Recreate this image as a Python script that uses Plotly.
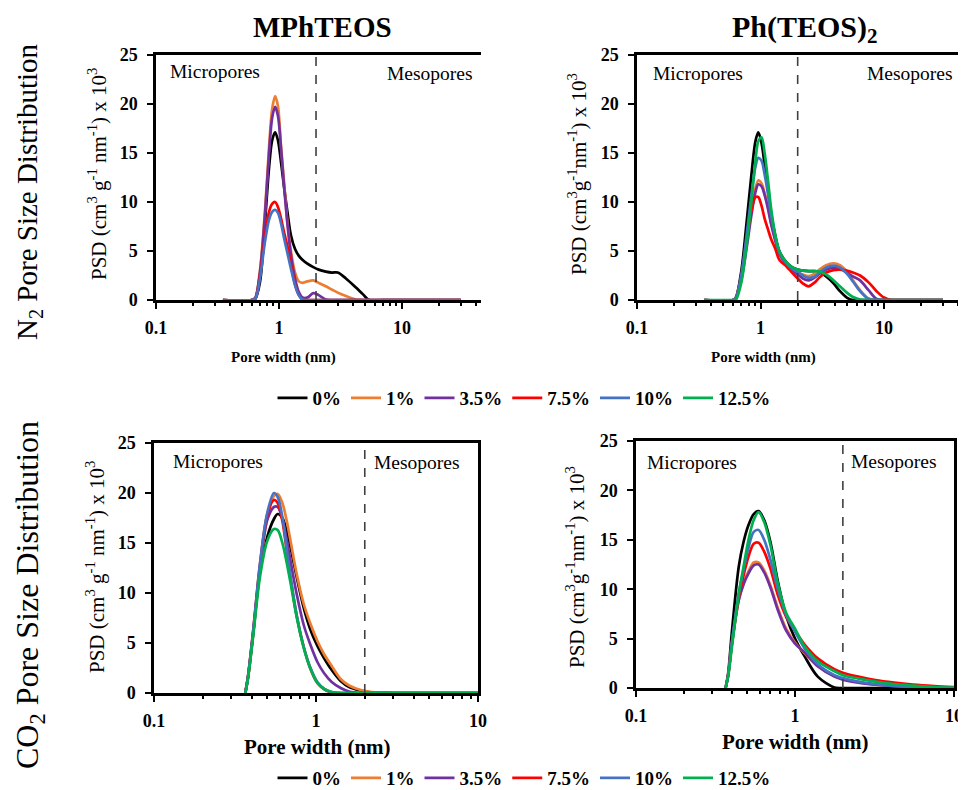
import plotly.graph_objects as go

W, H = 966, 790
OFF = 8  # page body margin of the rendered html
FONT = "'Liberation Serif', 'DejaVu Serif', serif"

LABELS = ["0%", "1%", "3.5%", "7.5%", "10%", "12.5%"]
COLORS = ["#000000", "#ED7D31", "#7030A0", "#FF0000", "#4472C4", "#00B050"]

# ---------------- N2, MPhTEOS (top-left) ----------------
N2_MPH_X = [0.35, 0.6, 0.64, 0.7, 0.77, 0.83, 0.88, 0.93, 0.98, 1.04, 1.1, 1.17, 1.25, 1.35,
            1.45, 1.55, 1.7, 1.9, 2.1, 2.4, 2.7, 3.0, 3.5, 4.2, 4.8, 5.4, 7, 10, 20, 30]
N2_MPH_0 = [0, 0, 0.1, 1.8, 8.0, 13.5, 16.3, 17.1, 16.3, 14.0, 11.5, 9.0, 6.6, 5.2,
            4.5, 4.1, 3.7, 3.35, 3.1, 2.9, 2.8, 2.8, 2.2, 1.3, 0.6, 0, 0, 0, 0, 0]
N2_MPH_1 = [0, 0, 0.2, 3.0, 9.2, 15.6, 19.5, 20.8, 19.8, 15.6, 12.0, 8.0, 5.0, 2.8,
            1.9, 1.75, 1.9, 2.0, 1.75, 1.4, 1.05, 0.75, 0.4, 0.05, 0, 0, 0, 0, 0, 0]
N2_MPH_35 = [0, 0, 0.2, 2.8, 8.8, 15.0, 18.6, 19.7, 18.8, 15.4, 11.6, 7.8, 4.6, 2.2,
             0.8, 0.25, 0.25, 0.7, 0.5, 0.05, 0, 0, 0, 0, 0, 0, 0, 0, 0, 0]
N2_MPH_75 = [0, 0, 0.1, 2.5, 6.5, 9.0, 9.8, 10.0, 9.5, 8.3, 6.9, 5.5, 3.6, 1.6,
             0.5, 0.05, 0, 0, 0, 0, 0, 0, 0, 0, 0, 0, 0, 0, 0, 0]
N2_MPH_10 = [0, 0, 0.1, 2.2, 6.0, 8.2, 9.0, 9.2, 8.9, 7.8, 6.3, 4.8, 3.2, 1.5,
             0.5, 0.05, 0, 0, 0, 0, 0, 0, 0, 0, 0, 0, 0, 0, 0, 0]

# ---------------- N2, Ph(TEOS)2 (top-right) ----------------
N2_PH_X = [0.35, 0.6, 0.63, 0.7, 0.77, 0.84, 0.91, 0.96, 1.02, 1.08, 1.15, 1.22, 1.32, 1.42,
           1.63, 1.8, 2.0, 2.2, 2.45, 2.75, 3.0, 3.4, 3.9, 4.4, 5.0, 5.6, 6.4, 7.5, 8.7, 10,
           11.5, 14, 20, 30]
N2_PH_0 = [0, 0, 0.2, 3.0, 7.8, 12.5, 16.2, 17.1, 16.0, 13.8, 11.2, 8.8, 6.5, 5.0,
           3.8, 3.35, 3.1, 3.0, 2.95, 2.95, 2.85, 2.4, 1.7, 0.9, 0.25, 0, 0, 0, 0, 0,
           0, 0, 0, 0]
N2_PH_1 = [0, 0, 0.2, 2.3, 5.6, 9.0, 11.4, 12.2, 11.9, 10.9, 9.5, 7.9, 6.1, 4.8,
           3.7, 3.2, 2.85, 2.6, 2.45, 2.7, 3.1, 3.55, 3.75, 3.55, 2.9, 2.0, 1.0, 0.15, 0, 0,
           0, 0, 0, 0]
N2_PH_35 = [0, 0, 0.2, 2.1, 5.2, 8.5, 11.0, 11.8, 11.6, 10.7, 9.3, 7.7, 6.0, 4.7,
            3.6, 3.05, 2.6, 2.2, 2.0, 2.3, 2.7, 3.1, 3.3, 3.2, 2.8, 2.4, 2.0, 1.0, 0.1, 0,
            0, 0, 0, 0]
N2_PH_75 = [0, 0, 0.2, 2.5, 6.0, 9.0, 10.5, 10.5, 9.6, 8.3, 7.2, 6.2, 5.2, 4.1,
            3.4, 2.8, 2.2, 1.7, 1.4, 1.8, 2.3, 2.8, 3.05, 3.1, 3.0, 2.8, 2.5, 1.8, 0.9, 0.25,
            0, 0, 0, 0]
N2_PH_10 = [0, 0, 0.2, 2.6, 6.5, 10.5, 13.6, 14.5, 14.2, 12.8, 10.8, 8.6, 6.4, 4.9,
            3.7, 3.2, 2.85, 2.5, 2.25, 2.4, 2.8, 3.3, 3.5, 3.3, 2.7, 1.9, 0.9, 0.1, 0, 0,
            0, 0, 0, 0]
N2_PH_125 = [0, 0, 0, 1.8, 5.5, 9.8, 14.2, 16.2, 16.6, 15.0, 12.2, 9.3, 6.6, 5.0,
             3.8, 3.35, 3.1, 3.0, 2.95, 2.95, 2.9, 2.6, 2.0, 1.4, 0.75, 0.3, 0.05, 0, 0, 0,
             0, 0, 0, 0]

# ---------------- CO2, MPhTEOS (bottom-left) ----------------
CO2_MPH_X = [0.366, 0.38, 0.41, 0.45, 0.5, 0.55, 0.58, 0.62, 0.66, 0.7, 0.76, 0.84, 0.92,
             1.02, 1.12, 1.25, 1.42, 1.6, 1.89, 2.2, 3, 5, 10]
CO2_MPH_0 = [0, 1.5, 6.0, 12.0, 15.6, 17.4, 17.9, 17.5, 16.2, 14.4, 11.6, 8.5, 6.4,
             4.7, 3.5, 2.3, 1.2, 0.6, 0.25, 0.05, 0, 0, 0]
CO2_MPH_1 = [0, 1.5, 6.0, 12.3, 17.5, 19.7, 19.9, 19.0, 17.2, 15.0, 11.9, 8.9, 7.0,
             5.2, 3.9, 2.7, 1.4, 0.75, 0.3, 0.1, 0, 0, 0]
CO2_MPH_35 = [0, 1.5, 6.1, 12.4, 17.3, 18.6, 18.6, 17.4, 15.3, 13.0, 9.9, 6.8, 4.9,
              3.1, 2.0, 1.1, 0.5, 0.15, 0, 0, 0, 0, 0]
CO2_MPH_75 = [0, 1.6, 6.3, 12.7, 17.8, 19.3, 19.0, 17.2, 14.2, 11.2, 7.7, 4.6, 2.5,
              1.0, 0.4, 0.05, 0, 0, 0, 0, 0, 0, 0]
CO2_MPH_10 = [0, 1.6, 6.3, 12.8, 18.0, 20.0, 19.6, 17.6, 14.4, 11.4, 7.8, 4.6, 2.6,
              1.1, 0.45, 0.1, 0, 0, 0, 0, 0, 0, 0]
CO2_MPH_125 = [0, 1.4, 5.8, 11.5, 15.2, 16.4, 16.3, 15.0, 13.0, 10.8, 7.6, 4.5, 2.5,
               1.0, 0.4, 0.1, 0, 0, 0, 0, 0, 0, 0]

# ---------------- CO2, Ph(TEOS)2 (bottom-right) ----------------
CO2_PH_X = [0.366, 0.38, 0.4, 0.443, 0.475, 0.51, 0.55, 0.59, 0.64, 0.7, 0.78, 0.88, 1.0,
            1.15, 1.39, 1.77, 2.0, 2.5, 3.2, 4.2, 5.5, 7.5, 10]
CO2_PH_0 = [0, 1.5, 5.5, 12.3, 14.8, 16.5, 17.6, 17.9, 17.0, 14.8, 10.8, 7.3, 5.0,
            3.2, 1.15, 0.05, 0, 0, 0, 0, 0, 0, 0]
CO2_PH_1 = [0, 1.3, 4.3, 8.9, 10.6, 11.8, 12.7, 12.7, 11.9, 10.4, 8.1, 6.0, 4.6,
            3.5, 2.2, 1.2, 0.9, 0.6, 0.35, 0.2, 0.1, 0.05, 0.02]
CO2_PH_35 = [0, 1.3, 4.3, 8.9, 10.5, 11.6, 12.4, 12.5, 11.7, 10.2, 7.9, 5.8, 4.5,
             3.6, 2.2, 1.15, 0.85, 0.55, 0.35, 0.2, 0.1, 0.05, 0.02]
CO2_PH_75 = [0, 1.3, 4.4, 9.2, 11.4, 13.3, 14.6, 14.7, 13.8, 12.1, 9.4, 7.2, 5.8,
             4.4, 3.0, 1.9, 1.55, 1.15, 0.8, 0.54, 0.35, 0.2, 0.1]
CO2_PH_10 = [0, 1.3, 4.5, 9.6, 12.0, 14.2, 15.8, 16.0, 15.0, 13.0, 10.0, 7.4, 5.7,
             4.0, 2.4, 1.3, 1.0, 0.65, 0.4, 0.2, 0.1, 0.05, 0.02]
CO2_PH_125 = [0, 1.2, 4.0, 9.5, 12.3, 15.0, 17.0, 17.8, 16.8, 14.5, 10.6, 7.6, 6.0,
              4.2, 2.7, 1.7, 1.3, 0.95, 0.65, 0.4, 0.25, 0.1, 0.05]

X_TICKS = [0.1, 1, 10]
X_TICKTEXT = ["0.1", "1", "10"]
MINOR_TICKS = [0.2, 0.3, 0.4, 0.5, 0.6, 0.7, 0.8, 0.9, 2, 3, 4, 5, 6, 7, 8, 9, 20, 30, 40]

panels = [
    ("x", "y", N2_MPH_X, [N2_MPH_0, N2_MPH_1, N2_MPH_35, N2_MPH_75, N2_MPH_10, None], None),
    ("x2", "y2", N2_PH_X, [N2_PH_0, N2_PH_1, N2_PH_35, N2_PH_75, N2_PH_10, N2_PH_125], "legend"),
    ("x3", "y3", CO2_MPH_X, [CO2_MPH_0, CO2_MPH_1, CO2_MPH_35, CO2_MPH_75, CO2_MPH_10, CO2_MPH_125], None),
    ("x4", "y4", CO2_PH_X, [CO2_PH_0, CO2_PH_1, CO2_PH_35, CO2_PH_75, CO2_PH_10, CO2_PH_125], "legend2"),
]

fig = go.Figure()
for xa, ya, xs, series, leg in panels:
    for i, ys in enumerate(series):
        if ys is None:
            continue
        fig.add_trace(go.Scatter(
            x=xs, y=ys, xaxis=xa, yaxis=ya, mode="lines", name=LABELS[i],
            line=dict(color=COLORS[i], width=2.7, shape="spline", smoothing=0.9),
            showlegend=leg is not None, legend=leg if leg else "legend",
        ))


def px(v):
    return (v - OFF) / W


def py(v):
    return 1 - (v - OFF) / H


# pixel geometry of each plot area (screen pixels): (left, right, top(25), bottom(0), log max)
geo = {
    "1": (156, 481, 55, 300, -1 + (481 - 156) / 123.0),
    "2": (637, 966, 55, 300, -1 + (966 - 637) / 123.5),
    "3": (154, 478, 443, 693, 1),
    "4": (636, 954, 441, 688, 1),
}

axfont = dict(family=FONT, size=18, color="black", weight="bold")
layout = dict(
    width=W, height=H, autosize=False,
    margin=dict(l=0, r=0, t=0, b=0, pad=0, autoexpand=False),
    paper_bgcolor="white", plot_bgcolor="white",
    font=dict(family=FONT, color="black"),
)
for k, (l, r, t, b, lmax) in geo.items():
    sx = "" if k == "1" else k
    bottom_row = k in ("3", "4")
    layout["xaxis" + sx] = dict(
        type="log", range=[-1, lmax], domain=[px(l), px(r)], automargin=False,
        anchor="y" + sx, showline=True, linecolor="black", linewidth=2.5, mirror=True,
        ticks="outside", ticklen=6, tickwidth=2, tickcolor="black",
        tickvals=X_TICKS, ticktext=X_TICKTEXT, tickfont=axfont, ticklabelstandoff=4,
        showgrid=False, zeroline=False,
        minor=dict(ticks="outside", ticklen=3, tickwidth=2, tickcolor="black",
                   tickvals=MINOR_TICKS, showgrid=False),
    )
    layout["yaxis" + sx] = dict(
        range=[0, 25], domain=[py(b), py(t)], anchor="x" + sx, automargin=False,
        showline=True, linecolor="black", linewidth=2.5, mirror=bottom_row,
        ticks="outside", ticklen=6, tickwidth=2, tickcolor="black",
        dtick=5, tickfont=axfont, ticklabelstandoff=6, showgrid=False, zeroline=False,
    )

legfont = dict(family=FONT, size=19, color="black", weight="bold")
layout["legend"] = dict(
    orientation="h", x=px(524), xanchor="center", y=py(398), yanchor="middle",
    font=legfont, bgcolor="rgba(0,0,0,0)", itemwidth=30, tracegroupgap=0,
)
layout["legend2"] = dict(
    orientation="h", x=px(524), xanchor="center", y=py(778), yanchor="middle",
    font=legfont, bgcolor="rgba(0,0,0,0)", itemwidth=30, tracegroupgap=0,
)
fig.update_layout(**layout)

# dashed boundary at 2 nm
for k in ["", "2", "3", "4"]:
    fig.add_shape(type="line", xref="x" + k, yref="y" + k, x0=2, x1=2, y0=0, y1=25,
                  line=dict(color="#404040", width=1.6, dash="dash"))

annots = []


def ann(text, x, y, size, bold=False, angle=0):
    annots.append(dict(
        text=text, x=px(x), y=py(y), xref="paper", yref="paper", showarrow=False,
        xanchor="center", yanchor="middle", textangle=angle,
        font=dict(family=FONT, size=size, color="black", weight="bold" if bold else "normal"),
    ))


# column titles
ann("MPhTEOS", 322, 27, 29, bold=True)
ann("Ph(TEOS)<sub>2</sub>", 805, 29, 30, bold=True)
# row titles
ann("N<sub>2</sub> Pore Size Distribution", 29, 192, 29, angle=-90)
ann("CO<sub>2</sub> Pore Size Distribution", 29, 595, 32, angle=-90)
# y-axis titles
ann("PSD (cm<sup>3</sup> g<sup>-1</sup> nm<sup>-1</sup>) x 10<sup>3</sup>", 97, 174, 21, angle=-90)
ann("PSD (cm<sup>3</sup>g<sup>-1</sup>nm<sup>-1</sup>) x 10<sup>3</sup>", 577, 174, 21, angle=-90)
ann("PSD (cm<sup>3</sup> g<sup>-1</sup> nm<sup>-1</sup>) x 10<sup>3</sup>", 95, 567, 21, angle=-90)
ann("PSD (cm<sup>3</sup>g<sup>-1</sup>nm<sup>-1</sup>) x 10<sup>3</sup>", 575, 567, 21, angle=-90)
# x-axis titles
ann("Pore width (nm)", 283, 357, 15, bold=True)
ann("Pore width (nm)", 763, 357, 15, bold=True)
ann("Pore width (nm)", 317, 747, 21, bold=True)
ann("Pore width (nm)", 795, 742, 21, bold=True)
# region labels
ann("Micropores", 215, 72, 19.5)
ann("Mesopores", 430, 73, 19.5)
ann("Micropores", 698, 73, 19.5)
ann("Mesopores", 910, 73, 19.5)
ann("Micropores", 218, 462, 19.5)
ann("Mesopores", 417, 463, 19.5)
ann("Micropores", 692, 463, 19.5)
ann("Mesopores", 894, 462, 19.5)

fig.update_layout(annotations=annots)
fig.write_html("out.html")
